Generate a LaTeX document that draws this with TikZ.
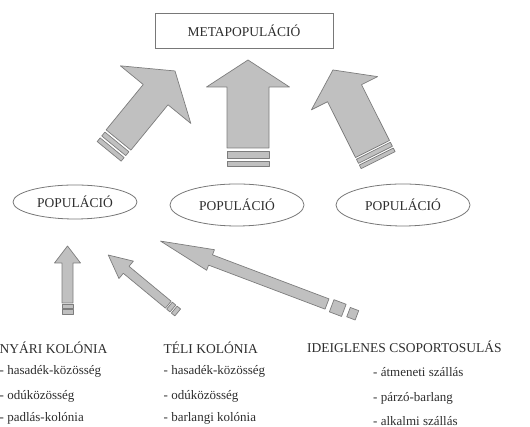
\documentclass[tikz,border=0pt]{standalone}
\usepackage{fontspec}
\setmainfont{Liberation Serif}
\usetikzlibrary{shapes.geometric}
\definecolor{arrowfill}{RGB}{192,192,192}
\definecolor{arrowline}{RGB}{125,125,125}
\definecolor{frameline}{RGB}{120,120,120}
\definecolor{txt}{RGB}{45,45,45}
% block arrow pointing up, from the base of the shaft: {shaft half}{head half}{shaft length}{head length}
\newcommand{\blockarrow}[4]{-- (-#1,#3) -- (-#2,#3) -- (0,#3+#4) -- (#2,#3) -- (#1,#3) -- (#1,0) -- cycle}
% band below the shaft: {half width}{from}{to}
\newcommand{\band}[3]{(-#1,-#2) rectangle (#1,-#3)}
\tikzset{
  arrowbody/.style={fill=arrowfill, draw=arrowline, line width=0.7pt, line join=round},
  metabox/.style={draw=frameline, line width=0.8pt, minimum width=178pt, minimum height=35pt,
    font=\fontsize{13.5}{16}\selectfont, text=txt},
  popnode/.style={ellipse, draw=frameline, line width=0.8pt, inner sep=0pt,
    font=\fontsize{13.5}{16}\selectfont, text=txt},
  head/.style={anchor=base west, inner sep=0pt, font=\fontsize{13.5}{16}\selectfont, text=txt},
  item/.style={anchor=base west, inner sep=0pt, font=\fontsize{13}{16}\selectfont, text=txt}
}
\begin{document}
\begin{tikzpicture}[x=1pt, y=1pt]
    \useasboundingbox (0,0) rectangle (530,427);
    \node[metabox] (meta) at (244,396.5) {METAPOPULÁCIÓ};
    \node[popnode, minimum width=124pt, minimum height=34pt] (pop1) at (75,225) {POPULÁCIÓ};
    \node[popnode, minimum width=134pt, minimum height=42pt] (pop2) at (237,222) {POPULÁCIÓ};
    \node[popnode, minimum width=134pt, minimum height=42pt] (pop3) at (403,222) {POPULÁCIÓ};
    % big arrows
    \begin{scope}[shift={(118.5,287)}, rotate=-39.3]
        \draw[arrowbody] (-16,0) \blockarrow{16}{45.5}{58.6}{30.6};
        \draw[arrowbody] \band{15.5}{2.5}{7.5} \band{15.5}{10}{14.7};
    \end{scope}
    \begin{scope}[shift={(248,279)}]
        \draw[arrowbody] (-21,0) \blockarrow{21}{41.5}{61}{27};
        \draw[arrowbody] \band{21}{3.5}{10.5} \band{21}{13.5}{18};
    \end{scope}
    \begin{scope}[shift={(372.5,278)}, rotate=26.6]
        \draw[arrowbody] (-19,0) \blockarrow{19}{37}{62.4}{26};
        \draw[arrowbody] \band{19}{2}{6.5} \band{19}{8.5}{12.5};
    \end{scope}
    % small arrows
    \begin{scope}[shift={(67.5,124)}]
        \draw[arrowbody] (-5.5,0) \blockarrow{5.5}{13}{40}{17};
        \draw[arrowbody] \band{5.5}{1.2}{5.2} \band{5.5}{6.7}{11};
    \end{scope}
    \begin{scope}[shift={(168.3,122.3)}, rotate=50.4]
        \draw[arrowbody] (-4.5,0) \blockarrow{4.5}{11.3}{54.7}{23.2};
        \draw[arrowbody] \band{4.5}{1.5}{6} \band{4.5}{7.7}{12.2};
    \end{scope}
    \begin{scope}[shift={(327,123)}, rotate=69.3]
        \draw[arrowbody] (-5.5,0) \blockarrow{5.5}{11}{124.5}{53.5};
        \draw[arrowbody] \band{6.5}{5}{18} \band{5}{23}{32};
    \end{scope}
    % colonies
    \node[head] (nyari) at (-0.5,73) {NYÁRI KOLÓNIA};
    \node[item] (nyari1) at (-0.5,52) {- hasadék-közösség};
    \node[item] (nyari2) at (-0.5,27.5) {- odúközösség};
    \node[item] (nyari3) at (-0.5,5) {- padlás-kolónia};
    \node[head] (teli) at (163.5,73) {TÉLI KOLÓNIA};
    \node[item] (teli1) at (163.5,52) {- hasadék-közösség};
    \node[item] (teli2) at (163.5,27.5) {- odúközösség};
    \node[item] (teli3) at (163.5,5) {- barlangi kolónia};
    \node[head] (ideig) at (307,74) {IDEIGLENES CSOPORTOSULÁS};
    \node[item] (ideig1) at (373,50) {- átmeneti szállás};
    \node[item] (ideig2) at (373,25.5) {- párzó-barlang};
    \node[item] (ideig3) at (373,1.5) {- alkalmi szállás};
\end{tikzpicture}
\end{document}
